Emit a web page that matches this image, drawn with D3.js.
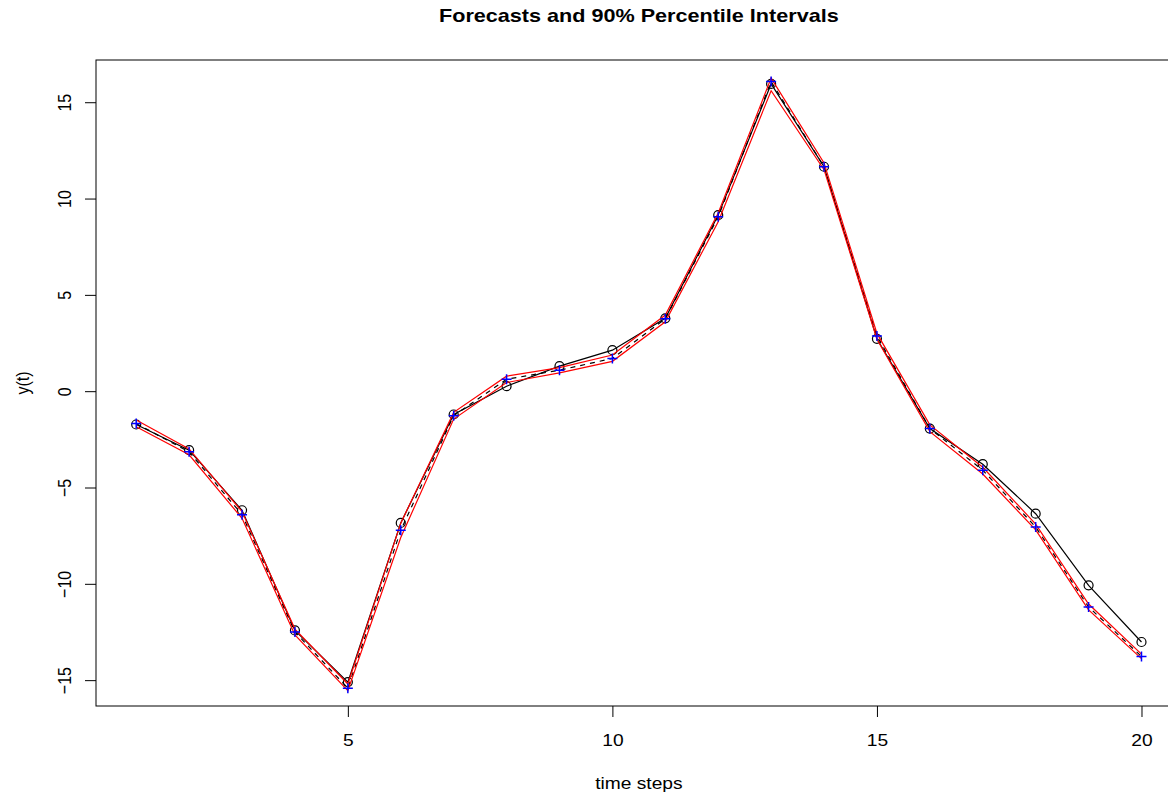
<!DOCTYPE html>
<html>
<head>
<meta charset="utf-8">
<title>Forecasts and 90% Percentile Intervals</title>
<script src="https://d3js.org/d3.v7.min.js"></script>
<style>
    body{ margin: 0; background: #fff; }
    svg{ display: block; font-family: "Liberation Sans", Arial, Helvetica, sans-serif; }
</style>
</head>
<body>
<svg id="chart" width="1168" height="797"></svg>
<script>
    /* data */
    var steps    = d3.range(1, 21);
    var actual   = [-1.73, -3.06, -6.18, -12.42, -15.10, -6.84, -1.21, 0.26, 1.30, 2.13,
                    3.78, 9.14, 15.95, 11.65, 2.72, -1.94, -3.79, -6.36, -10.08, -13.02];
    var forecast = [-1.68, -3.15, -6.41, -12.50, -15.42, -7.22, -1.27, 0.62, 1.09, 1.70,
                    3.76, 9.05, 16.07, 11.65, 2.86, -1.94, -4.10, -7.05, -11.20, -13.77];
    var lower    = [-1.85, -3.30, -6.60, -12.65, -15.55, -7.60, -1.45, 0.45, 0.95, 1.55,
                    3.60, 8.80, 15.60, 11.50, 2.70, -2.10, -4.30, -7.20, -11.35, -13.88];
    var upper    = [-1.50, -3.00, -6.25, -12.35, -15.20, -6.85, -1.10, 0.78, 1.22, 1.88,
                    3.95, 9.25, 16.25, 11.85, 3.00, -1.75, -3.95, -6.90, -11.05, -13.65];
    var xTicks = [5, 10, 15, 20];
    var yTicks = [-15, -10, -5, 0, 5, 10, 15];

    var svg = d3.select("#chart");
    var mLeft = 96, mTop = 60, mBottom = 706, mRight = 1181.7;
    var sx = 1.2;   // text in the reference is a bit wide

    /* R style 4% padding */
    function pad(ext){
        var d = (ext[1] - ext[0]) * 0.04;
        return [ext[0] - d, ext[1] + d];
    }
    var x = d3.scaleLinear().domain(pad(d3.extent(steps))).range([mLeft, mRight]);
    var y = d3.scaleLinear().domain(pad(d3.extent(actual))).range([mBottom, mTop]);

    function line(vals){
        return d3.line().x(function(d, i){ return x(steps[i]); })
                        .y(function(d){ return y(d); })(vals);
    }

    function label(tx, ty, txt, size, rot, bold){
        svg.append("text")
            .attr("transform", "translate(" + tx + "," + ty + ") scale(" + sx + ",1)" + (rot ? " rotate(-90)" : ""))
            .attr("text-anchor", "middle")
            .attr("font-size", size)
            .attr("font-weight", bold ? "bold" : null)
            .text(txt);
    }

    /* title and axis titles */
    label((mLeft + mRight) / 2, 22, "Forecasts and 90% Percentile Intervals", 18, false, true);
    label((mLeft + mRight) / 2, 789, "time steps", 16);
    label(29, (mTop + mBottom) / 2, "y(t)", 16, true);

    /* axes */
    var xAxis = svg.append("g")
        .attr("transform", "translate(0," + mBottom + ")")
        .call(d3.axisBottom(x).tickValues(xTicks).tickSize(11).tickFormat(d3.format("d")));
    xAxis.select(".domain").remove();
    xAxis.selectAll("text")
        .attr("font-size", 16).attr("fill", "#000")
        .attr("x", 0).attr("y", 0).attr("dy", 0)
        .attr("transform", "translate(0,40) scale(" + sx + ",1)");

    var yAxis = svg.append("g")
        .attr("transform", "translate(" + mLeft + ",0)")
        .call(d3.axisLeft(y).tickValues(yTicks).tickSize(11).tickFormat(function(d){
            return d < 0 ? "\u2212" + Math.abs(d) : d;
        }));
    yAxis.select(".domain").remove();
    yAxis.selectAll("text")
        .attr("font-size", 16)
        .attr("fill", "#000")
        .attr("text-anchor", "middle")
        .attr("x", 0).attr("y", 0).attr("dy", 0)
        .attr("transform", "translate(-25,0) scale(" + sx + ",1) rotate(-90)");

    /* plot box */
    svg.append("rect")
        .attr("x", mLeft).attr("y", mTop)
        .attr("width", mRight - mLeft).attr("height", mBottom - mTop)
        .attr("fill", "none").attr("stroke", "#000").attr("stroke-width", 1);

    /* actual values */
    svg.append("path").attr("d", line(actual))
        .attr("fill", "none").attr("stroke", "#000").attr("stroke-width", 1.2);
    svg.selectAll(".obs").data(actual).enter().append("circle")
        .attr("class", "obs")
        .attr("cx", function(d, i){ return x(steps[i]); })
        .attr("cy", function(d){ return y(d); })
        .attr("r", 4.5)
        .attr("fill", "none").attr("stroke", "#000").attr("stroke-width", 1.2);

    /* forecast mean */
    svg.append("path").attr("d", line(forecast))
        .attr("fill", "none").attr("stroke", "#000").attr("stroke-width", 1.2)
        .attr("stroke-dasharray", "5,5");

    /* interval */
    [lower, upper].forEach(function(v){
        svg.append("path").attr("d", line(v))
            .attr("fill", "none").attr("stroke", "red").attr("stroke-width", 1.2);
    });

    /* forecast points */
    svg.selectAll(".fc").data(forecast).enter().append("path")
        .attr("class", "fc")
        .attr("transform", function(d, i){ return "translate(" + x(steps[i]) + "," + y(d) + ")"; })
        .attr("d", "M-5,0H5M0,-5V5")
        .attr("stroke", "blue").attr("stroke-width", 1.5);
</script>
</body>
</html>
